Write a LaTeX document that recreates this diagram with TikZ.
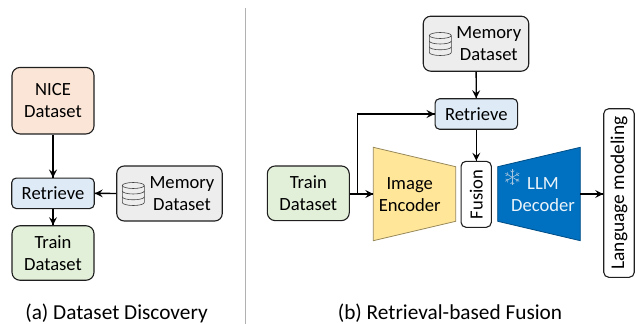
\documentclass[tikz,border=0pt]{standalone}
\usepackage{fontspec}
\setmainfont{Carlito}
\usetikzlibrary{calc}
\usetikzlibrary{arrows,decorations.markings}

\definecolor{niceFill}{HTML}{FBE5D6}
\definecolor{retrFill}{HTML}{DEEBF7}
\definecolor{trainFill}{HTML}{E2F0D9}
\definecolor{memFill}{HTML}{EDEDED}
\definecolor{encFill}{HTML}{FFE699}
\definecolor{decFill}{HTML}{0070C0}
\definecolor{edgeDark}{HTML}{1F1F1F}
\definecolor{flakeCol}{HTML}{A9C6DE}

\tikzset{
	box/.style={draw=edgeDark, line width=1.1pt, align=center, inner sep=0pt, font=\fontsize{18.6}{22}\selectfont},
	bigbox/.style={box, rounded corners=8pt, minimum width=82pt},
	retrbox/.style={box, rounded corners=4.5pt, fill=retrFill, minimum width=82.5pt, minimum height=30.5pt},
	membox/.style={box, rounded corners=7.5pt, fill=memFill, minimum width=105.5pt, minimum height=55pt},
	tallbox/.style={box, rounded corners=5pt, fill=white},
	plaintxt/.style={align=center, inner sep=0pt, font=\fontsize{18.6}{22}\selectfont},
	caption/.style={inner sep=0pt, font=\fontsize{21.3}{25}\selectfont},
	flow/.style={line width=1.3pt, black, decoration={markings,mark=at position 1 with {\arrow[scale=1.5,>=stealth]{>}}},postaction={decorate}},
	dbline/.style={line width=0.6pt, edgeDark!85}
}

% database icon, #1 is its centre
\newcommand{\dbicon}[1]{
	\draw[dbline] ($(#1)+(0,-8.5)$) ellipse [x radius=11pt, y radius=3pt];
	\draw[dbline] ($(#1)+(-11,-8.5)$) -- ($(#1)+(-11,8.5)$) arc [start angle=180, end angle=360, x radius=11pt, y radius=3pt] -- ($(#1)+(11,-8.5)$);
	\draw[dbline] ($(#1)+(-11,-3)$) arc [start angle=180, end angle=360, x radius=11pt, y radius=3pt];
	\draw[dbline] ($(#1)+(-11,2.8)$) arc [start angle=180, end angle=360, x radius=11pt, y radius=3pt];
}

\begin{document}
\begin{tikzpicture}[x=1pt,y=-1pt]
	\useasboundingbox (0,0) rectangle (635,324);
	\coordinate (base) at (0,0);

	%left part
	\node[bigbox, fill=niceFill, minimum height=66.5pt] (nice) at ($(base)+(53,100.7)$) {NICE\\Dataset};
	\node[retrbox] (retrA) at ($(base)+(53,193.3)$) {Retrieve};
	\node[bigbox, fill=trainFill, minimum height=54.5pt] (trainA) at ($(base)+(53,253)$) {Train\\Dataset};
	\node[membox] (memA) at ($(base)+(169.5,193.5)$) {};
	\node[plaintxt] (memAtxt) at ($(memA)+(12.5,0)$) {Memory\\Dataset};
	\coordinate (dbA) at ($(memA)+(-36.2,0.5)$);
	\dbicon{dbA}
	\node[caption] (capA) at ($(base)+(116.5,313)$) {(a) Dataset Discovery};

	\draw[flow] (nice) -- (retrA);
	\draw[flow] (retrA) -- (trainA);
	\draw[flow] (memA) -- (retrA);

	%divider
	\coordinate (divtop) at ($(base)+(245,8)$);
	\coordinate (divbot) at ($(base)+(245,324)$);
	\draw[line width=0.7pt, black!30] (divtop) -- (divbot);

	%right part
	\node[membox] (memB) at ($(base)+(476,43.7)$) {};
	\node[plaintxt] (memBtxt) at ($(memB)+(12.8,0)$) {Memory\\Dataset};
	\coordinate (dbB) at ($(memB)+(-35.7,0.3)$);
	\dbicon{dbB}
	\node[retrbox] (retrB) at ($(base)+(476.3,114)$) {Retrieve};
	\node[bigbox, fill=trainFill, minimum height=54.7pt] (trainB) at ($(base)+(308.3,193.3)$) {Train\\Dataset};

	%encoder and decoder
	\coordinate (enc1) at ($(base)+(373.3,147.3)$);
	\coordinate (enc2) at ($(base)+(455.7,166.7)$);
	\coordinate (enc3) at ($(base)+(455.7,221.3)$);
	\coordinate (enc4) at ($(base)+(373.3,240.7)$);
	\coordinate (dec1) at ($(base)+(497.7,166.7)$);
	\coordinate (dec2) at ($(base)+(580.3,147.3)$);
	\coordinate (dec3) at ($(base)+(580.3,240.7)$);
	\coordinate (dec4) at ($(base)+(497.7,221.3)$);
	\draw[line width=0.8pt, fill=encFill, draw=encFill!60!black] (enc1) -- (enc2) -- (enc3) -- (enc4) -- cycle;
	\draw[line width=0.8pt, fill=decFill, draw=decFill!70!black] (dec1) -- (dec2) -- (dec3) -- (dec4) -- cycle;
	\node[plaintxt] (enctxt) at ($(base)+(409.7,194.5)$) {Image\\Encoder};
	\node[plaintxt, text=white!92!decFill] (dectxt) at ($(base)+(543,194.5)$) {LLM\\Decoder};

	%snowflake
	\coordinate (flake) at ($(base)+(512.3,177.3)$);
	\foreach \ang in {30,90,...,330} {
		\draw[line width=0.6pt, flakeCol] (flake) -- ($(flake)+(\ang:8)$);
		\draw[line width=0.6pt, flakeCol] ($(flake)+(\ang:5)+(\ang+50:2.5)$) -- ($(flake)+(\ang:5)$) -- ($(flake)+(\ang:5)+(\ang-50:2.5)$);
	}

	\node[tallbox, minimum width=30.3pt, minimum height=66pt] (fusion) at ($(base)+(476.2,194.3)$) {};
	\node[plaintxt, rotate=90] (fusiontxt) at (fusion) {Fusion};
	\node[tallbox, minimum width=30.5pt, minimum height=168.6pt] (lang) at ($(base)+(619,193)$) {};
	\node[plaintxt, rotate=90, font=\fontsize{19.4}{22}\selectfont] (langtxt) at (lang) {Language modeling};
	\node[caption] (capB) at ($(base)+(450,313)$) {(b) Retrieval-based Fusion};

	\coordinate (encin) at ($(enc1)!0.5!(enc4)$);
	\coordinate (decout) at ($(dec2)!0.5!(dec3)$);
	\coordinate (branch) at ($(base)+(357.7,193.8)$);
	\draw[flow] (trainB.east |- encin) -- (encin);
	\draw[flow] (branch) |- (retrB.west);
	\draw[flow] (memB) -- (retrB);
	\draw[flow] (retrB) -- (retrB |- fusion.north);
	\draw[flow] (decout) -- (decout -| lang.west);

\end{tikzpicture}
\end{document}
